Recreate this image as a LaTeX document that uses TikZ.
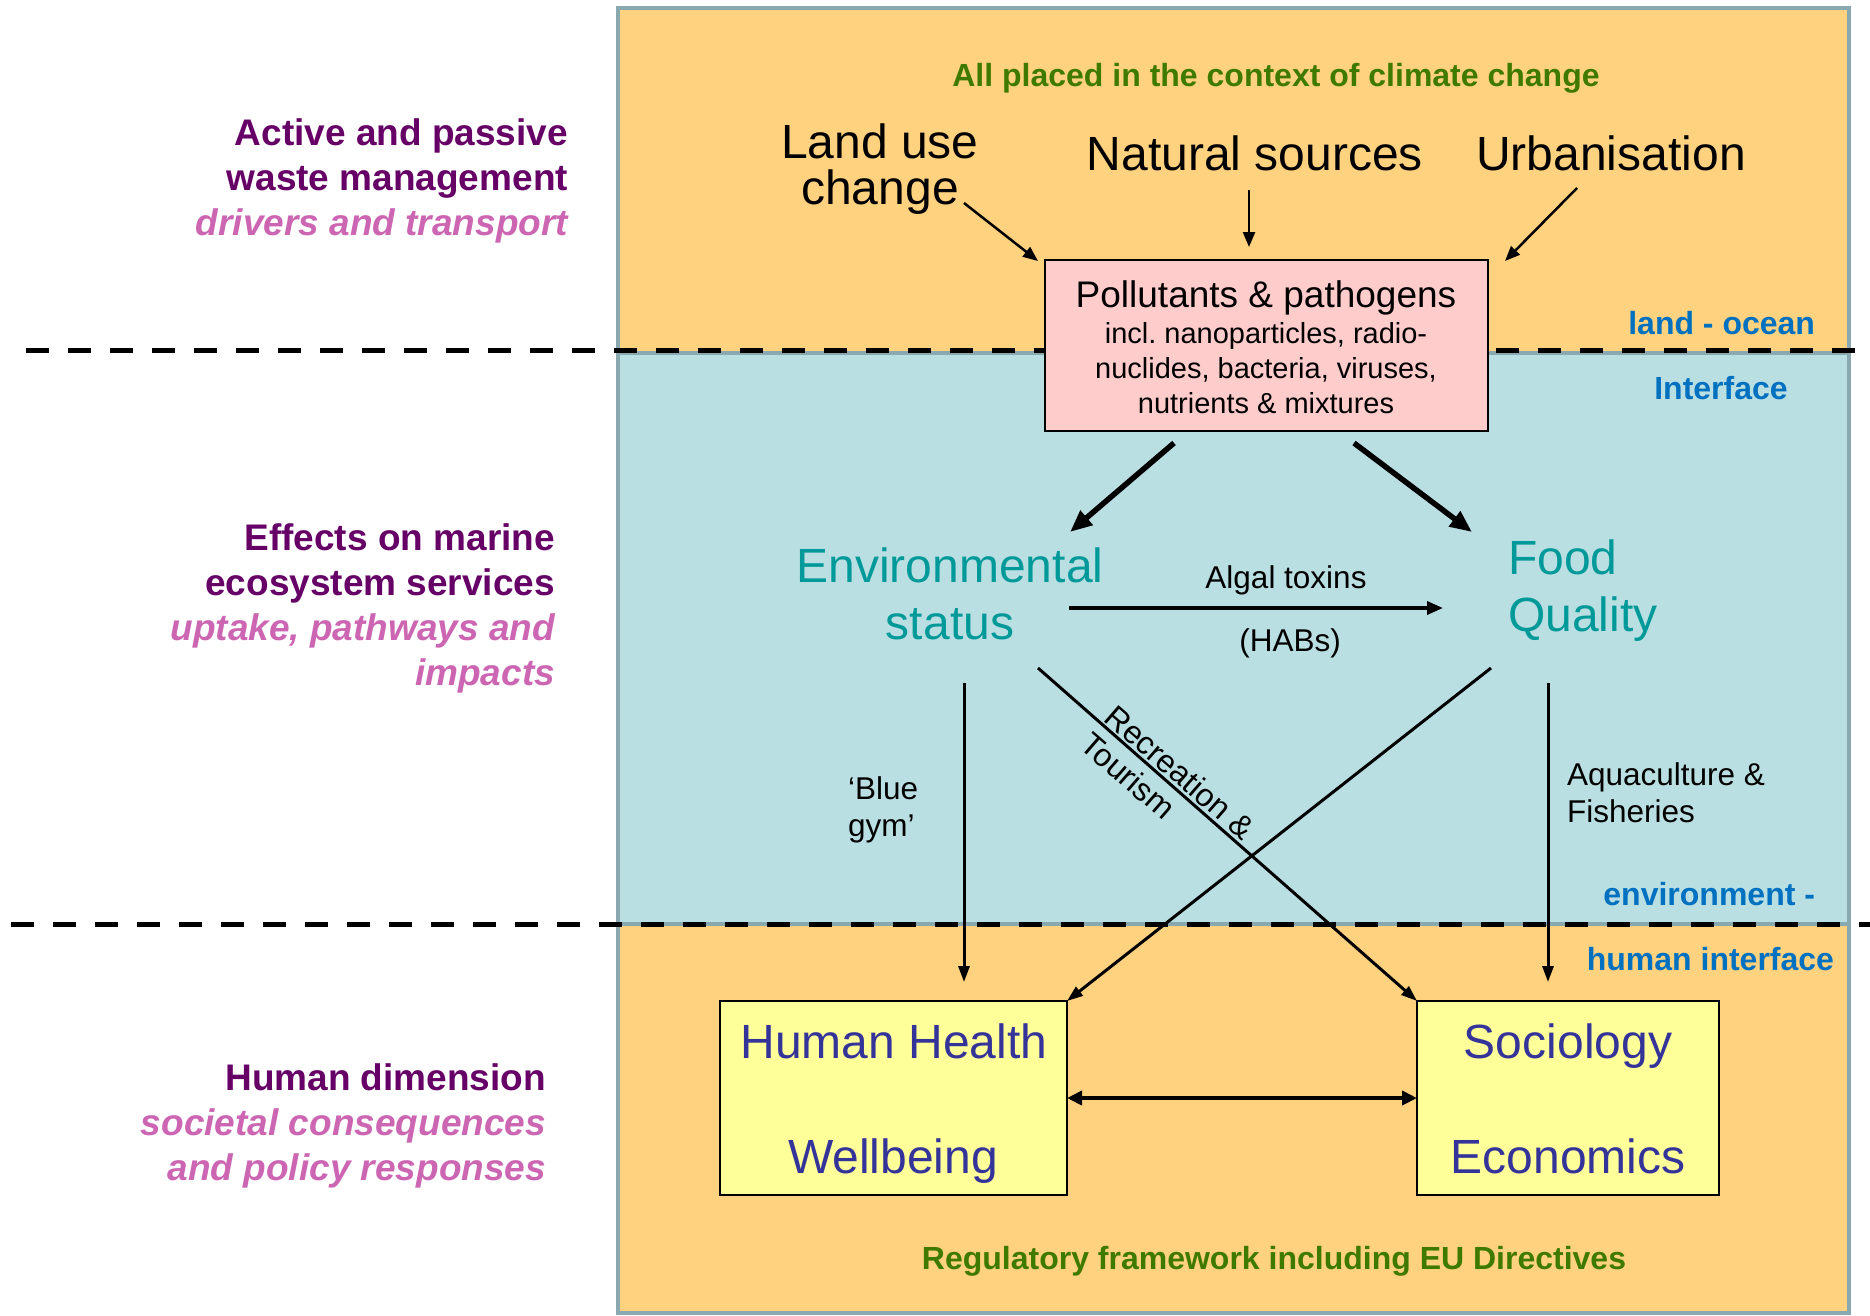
\documentclass[tikz,border=0pt]{standalone}
\usepackage{fontspec}
\setmainfont{Liberation Sans}
\usetikzlibrary{arrows.meta}
\definecolor{bgorange}{HTML}{FFD280}
\definecolor{bgblue}{HTML}{BADFE2}
\definecolor{framec}{HTML}{8AA8AF}
\definecolor{pinkbox}{HTML}{FFCCCC}
\definecolor{yellowbox}{HTML}{FFFF99}
\definecolor{greentxt}{HTML}{3F7A00}
\definecolor{bluetxt}{HTML}{0070C0}
\definecolor{tealtxt}{HTML}{009999}
\definecolor{indigotxt}{HTML}{333399}
\definecolor{purpletxt}{HTML}{660066}
\definecolor{pinktxt}{HTML}{CC66B3}
\frenchspacing
\begin{document}
\begin{tikzpicture}[x=1pt,y=-1pt,
  every node/.style={inner sep=0pt,outer sep=0pt},
  dashline/.style={line width=5pt,dash pattern=on 23pt off 19pt},
  greenlbl/.style={text=greentxt,font=\bfseries\fontsize{32}{38}\selectfont},
  bluelbl/.style={text=bluetxt,font=\bfseries\fontsize{32}{38}\selectfont},
  sidelbl/.style={align=right,font=\bfseries\fontsize{37}{45}\selectfont},
  bigtxt/.style={font=\fontsize{48}{46}\selectfont},
  tealtext/.style={text=tealtxt,font=\fontsize{48}{57}\selectfont},
  smalltxt/.style={font=\fontsize{31.5}{37}\selectfont},
  hhtext/.style={text=indigotxt,font=\fontsize{48}{57}\selectfont},
  polbox/.style={draw=black,line width=2pt,fill=pinkbox},
  ybox/.style={draw=black,line width=2pt,fill=yellowbox},
  srcarrow/.style={line width=2.5pt,-{Triangle[length=15pt,width=12pt]}},
  thickarrow/.style={line width=5.5pt,-{Triangle[length=22pt,width=18pt]}},
  midarrow/.style={line width=3.5pt,-{Triangle[length=16pt,width=13pt]}},
  linkarrow/.style={line width=3pt,-{Triangle[length=16pt,width=11pt]}},
  dblarrow/.style={line width=4pt,{Triangle[length=15pt,width=14pt]}-{Triangle[length=15pt,width=14pt]}}
]
\useasboundingbox (0,0) rectangle (1870,1315);
% background regions
\fill[bgorange] (618,8) rectangle (1849,1313);
\filldraw[fill=bgblue,draw=framec,line width=4pt] (618,353) rectangle (1849,924);
\draw[framec,line width=4pt] (618,8) rectangle (1849,1313);
\draw[dashline] (26,350) -- (1855,350);
\draw[dashline] (11,924) -- (1870,924);

% side texts
\node[sidelbl,anchor=east] (side1) at (568,181) {\textcolor{purpletxt}{Active and passive}\\\textcolor{purpletxt}{waste management}\\\textcolor{pinktxt}{\itshape drivers and transport}};
\node[sidelbl,anchor=east] (side2) at (555,608) {\textcolor{purpletxt}{Effects on marine}\\\textcolor{purpletxt}{ecosystem services}\\\textcolor{pinktxt}{\itshape uptake, pathways and}\\\textcolor{pinktxt}{\itshape impacts}};
\node[sidelbl,anchor=east] (side3) at (546,1126) {\textcolor{purpletxt}{Human dimension}\\\textcolor{pinktxt}{\itshape societal consequences}\\\textcolor{pinktxt}{\itshape and policy responses}};

% labels in frame
\node[greenlbl] (climate) at (1276,78.5) {All placed in the context of climate change};
\node[greenlbl] (regul) at (1274,1261.5) {Regulatory framework including EU Directives};
\node[bluelbl,anchor=east] (landocean) at (1815,323) {land - ocean};
\node[bluelbl] (interface) at (1721,388) {Interface};
\node[bluelbl,anchor=east] (envminus) at (1815,894) {environment -};
\node[bluelbl,anchor=east] (humint) at (1834,959) {human interface};

% sources
\node[bigtxt,align=center] (landuse) at (880,169.5) {Land use\\change};
\node[bigtxt] (natural) at (1255,153) {Natural sources};
\node[bigtxt] (urban) at (1611,153) {Urbanisation};

% pollutants box
\node[polbox,minimum width=443pt,minimum height=171pt] (pol) at (1266.5,345.5) {};
\node[font=\fontsize{37}{40}\selectfont] (poltitle) at (1266,297.5) {Pollutants \& pathogens};
\node[align=center,font=\fontsize{29}{35}\selectfont] (poldet) at (1266,368) {incl. nanoparticles, radio-\\nuclides, bacteria, viruses,\\nutrients \& mixtures};

% middle
\node[tealtext,align=center] (env) at (950,594) {Environmental\\status};
\node[tealtext,align=left,anchor=west] (food) at (1508,591) {Food\\Quality};
\node[smalltxt] (algal) at (1286,580.5) {Algal toxins};
\node[smalltxt] (habs) at (1290,643.5) {(HABs)};
\node[smalltxt,align=left,anchor=west] (bluegym) at (848,810) {‘Blue\\gym’};
\node[smalltxt,align=left,anchor=west] (aqua) at (1567,793) {Aquaculture \&\\Fisheries};
\node[align=left,rotate=-41,font=\fontsize{32}{37}\selectfont] (recre) at (1168,786) {Recreation \&\\Tourism};

% bottom boxes
\node[ybox,minimum width=347pt,minimum height=194pt] (hhbox) at (893.5,1098) {};
\node[hhtext] (hh1) at (894,1041) {Human Health};
\node[hhtext] (hh2) at (893,1161) {Wellbeing};
\node[ybox,minimum width=302pt,minimum height=194pt] (socbox) at (1568,1098) {};
\node[hhtext] (soc1) at (1568,1046) {Sociology};
\node[hhtext] (soc2) at (1568,1156) {Economics};

% connector end points
\coordinate (luS) at (964,203);
\coordinate (luE) at (1038,261);
\coordinate (natS) at (1249,190);
\coordinate (natE) at (1249,247);
\coordinate (urbS) at (1577,188);
\coordinate (urbE) at (1505,261);
\coordinate (polL) at (1174,443);
\coordinate (polR) at (1354,443);
\coordinate (envIn) at (1070,532);
\coordinate (foodIn) at (1472,532);
\coordinate (envR) at (1069,608);
\coordinate (foodL) at (1443,608);
\coordinate (envB) at (964,683);
\coordinate (envBR) at (1038,668);
\coordinate (foodBL) at (1491,668);
\coordinate (foodB) at (1548,683);
\coordinate (hhTop) at (964,982);
\coordinate (socTop) at (1548,982);

\draw[srcarrow] (luS) -- (luE);
\draw[srcarrow] (natS) -- (natE);
\draw[srcarrow] (urbS) -- (urbE);
\draw[thickarrow] (polL) -- (envIn);
\draw[thickarrow] (polR) -- (foodIn);
\draw[midarrow] (envR) -- (foodL);
\draw[linkarrow] (envB) -- (hhTop);
\draw[linkarrow] (envBR) -- (socbox.north west);
\draw[linkarrow] (foodBL) -- (hhbox.north east);
\draw[linkarrow] (foodB) -- (socTop);
\draw[dblarrow] (hhbox.east) -- (socbox.west);
\end{tikzpicture}
\end{document}
